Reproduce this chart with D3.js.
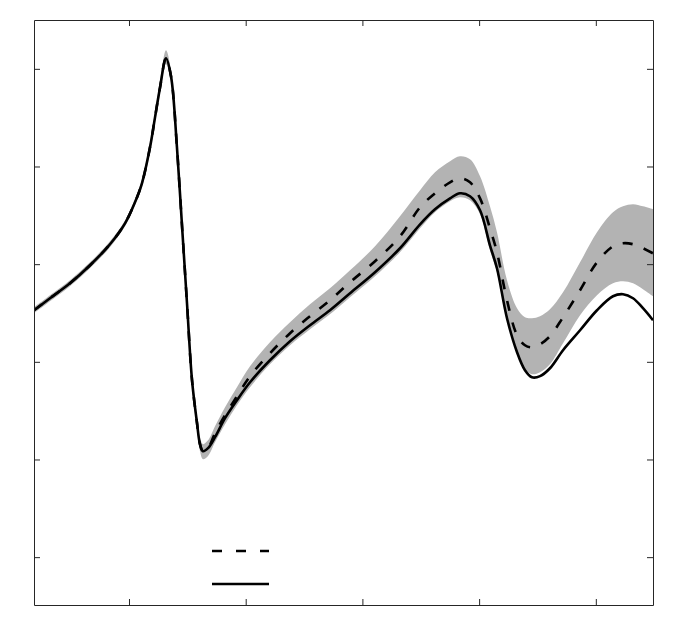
<!DOCTYPE html>
<html>
<head>
<meta charset="utf-8">
<script src="https://cdn.jsdelivr.net/npm/d3@7"></script>
<style>
html,body{margin:0;padding:0;background:#fff;}
svg{display:block;}
</style>
</head>
<body>
<svg id="chart" width="692" height="630"></svg>
<script>
// ---- data ----
const xTicks = [1, 2, 3, 4, 5];
const yTicks = [0, 1, 2, 3, 4, 5];
const xs = [0.186,0.323,0.494,0.666,0.837,0.966,1.051,1.111,1.180,1.223,1.266,1.317,1.360,1.411,1.454,1.497,1.540,1.583,1.608,1.634,1.677,1.737,1.823,1.925,2.037,2.208,2.380,2.551,2.722,2.894,3.108,3.322,3.494,3.622,3.751,3.836,3.922,4.008,4.093,4.153,4.239,4.325,4.393,4.453,4.522,4.607,4.719,4.865,5.010,5.147,5.233,5.319,5.404,5.490];
const solidSeries = [2.528,2.651,2.804,2.989,3.204,3.418,3.633,3.828,4.196,4.503,4.810,5.107,4.923,4.196,3.398,2.600,1.812,1.371,1.157,1.085,1.116,1.228,1.423,1.607,1.791,2.016,2.211,2.375,2.528,2.702,2.917,3.163,3.408,3.562,3.674,3.726,3.695,3.552,3.193,2.958,2.446,2.098,1.914,1.842,1.853,1.934,2.119,2.323,2.528,2.671,2.692,2.651,2.549,2.426];
const dashedSeries = [2.528,2.651,2.804,2.989,3.204,3.418,3.633,3.828,4.196,4.503,4.810,5.107,4.923,4.196,3.398,2.600,1.812,1.371,1.157,1.085,1.116,1.269,1.453,1.648,1.853,2.088,2.293,2.467,2.630,2.815,3.030,3.285,3.582,3.726,3.838,3.879,3.838,3.674,3.367,3.122,2.630,2.272,2.170,2.149,2.180,2.262,2.456,2.733,3.019,3.183,3.214,3.204,3.163,3.111];
const bandHigh = [2.558,2.681,2.834,3.019,3.234,3.448,3.663,3.868,4.246,4.558,4.870,5.189,4.983,4.256,3.458,2.660,1.882,1.441,1.227,1.157,1.196,1.341,1.535,1.740,1.955,2.200,2.405,2.589,2.753,2.937,3.183,3.490,3.756,3.940,4.053,4.104,4.074,3.899,3.592,3.326,2.835,2.549,2.456,2.446,2.467,2.538,2.712,3.019,3.326,3.531,3.592,3.613,3.592,3.562];
const bandLow = [2.498,2.621,2.774,2.959,3.174,3.388,3.603,3.788,4.146,4.448,4.750,5.046,4.863,4.136,3.338,2.540,1.742,1.301,1.087,1.003,1.036,1.177,1.361,1.556,1.740,1.975,2.170,2.334,2.487,2.661,2.876,3.122,3.367,3.531,3.644,3.685,3.654,3.511,3.142,2.917,2.415,2.088,1.924,1.873,1.893,1.975,2.190,2.477,2.682,2.804,2.825,2.804,2.743,2.671];
const legendItems = [{label: "", dash: true}, {label: "", dash: false}];

// ---- layout ----
const L = 34, R = 653, T = 20, B = 605;
const svg = d3.select("#chart");
const x = d3.scaleLinear().domain([0.186, 5.490]).range([L, R]);
const y = d3.scaleLinear().domain([-0.49, 5.5]).range([B, T]);

svg.append("defs").append("clipPath").attr("id", "clip")
  .append("rect").attr("x", L).attr("y", T).attr("width", R - L).attr("height", B - T);

const rows = xs.map((v, i) => ({x: v, s: solidSeries[i], d: dashedSeries[i], lo: bandLow[i], hi: bandHigh[i]}));
const curve = d3.curveCatmullRom.alpha(0.5);
const plot = svg.append("g").attr("clip-path", "url(#clip)");

plot.append("path").datum(rows)
  .attr("fill", "#b3b3b3")
  .attr("d", d3.area().curve(curve).x(r => x(r.x)).y0(r => y(r.lo)).y1(r => y(r.hi)));

plot.append("path").datum(rows)
  .attr("fill", "none").attr("stroke", "#000").attr("stroke-width", 2.6)
  .attr("stroke-dasharray", "10,12")
  .attr("d", d3.line().curve(curve).x(r => x(r.x)).y(r => y(r.d)));

plot.append("path").datum(rows)
  .attr("fill", "none").attr("stroke", "#000").attr("stroke-width", 2.6)
  .attr("stroke-linejoin", "round")
  .attr("d", d3.line().curve(curve).x(r => x(r.x)).y(r => y(r.s)));

// ---- axes (box with inward ticks, no labels) ----
const axStyle = g => {
  g.selectAll("path.domain").attr("stroke", "#262626").attr("stroke-width", 1);
  g.selectAll(".tick line").attr("stroke", "#262626").attr("stroke-width", 1);
  g.selectAll(".tick text").remove();
};
svg.append("g").attr("transform", `translate(0,${B})`)
  .call(d3.axisBottom(x).tickValues(xTicks).tickSizeInner(-6).tickSizeOuter(0).tickFormat(""))
  .call(axStyle);
svg.append("g").attr("transform", `translate(0,${T})`)
  .call(d3.axisTop(x).tickValues(xTicks).tickSizeInner(-6).tickSizeOuter(0).tickFormat(""))
  .call(axStyle);
svg.append("g").attr("transform", `translate(${L},0)`)
  .call(d3.axisLeft(y).tickValues(yTicks).tickSizeInner(-6).tickSizeOuter(0).tickFormat(""))
  .call(axStyle);
svg.append("g").attr("transform", `translate(${R},0)`)
  .call(d3.axisRight(y).tickValues(yTicks).tickSizeInner(-6).tickSizeOuter(0).tickFormat(""))
  .call(axStyle);

// ---- legend (line samples only) ----
const lg = svg.append("g").attr("transform", "translate(212,551)");
legendItems.forEach((it, i) => {
  lg.append("line").attr("x1", 0).attr("x2", 57).attr("y1", i * 33).attr("y2", i * 33)
    .attr("stroke", "#000").attr("stroke-width", 2.6)
    .attr("stroke-dasharray", it.dash ? "10,14" : null);
  lg.append("text").attr("x", 64).attr("y", i * 33 + 4).attr("font-family", "Liberation Sans").attr("font-size", 12).text(it.label);
});
</script>
</body>
</html>
